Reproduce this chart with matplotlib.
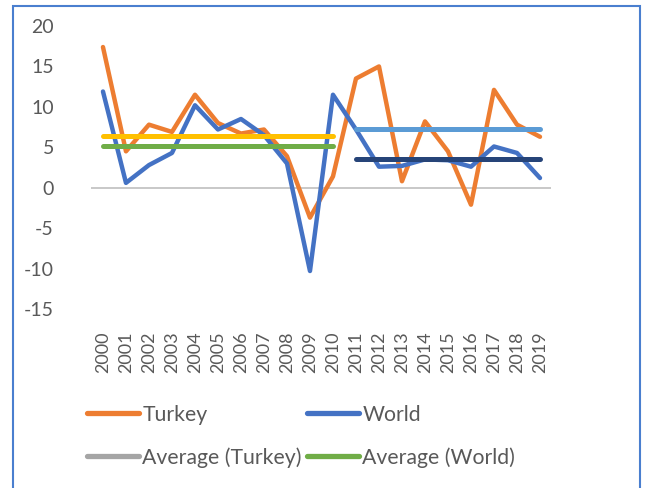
import matplotlib
matplotlib.use("Agg")
import matplotlib.pyplot as plt
from matplotlib.lines import Line2D
from matplotlib.patches import Rectangle

years = [str(y) for y in range(2000, 2020)]
turkey = [17.4, 4.5, 7.8, 6.9, 11.5, 8.0, 6.7, 7.2, 3.9, -3.7,
          1.4, 13.5, 15.0, 0.8, 8.2, 4.5, -2.1, 12.1, 7.8, 6.3]
world = [11.9, 0.6, 2.8, 4.3, 10.2, 7.2, 8.5, 6.5, 3.0, -10.3,
         11.5, 7.2, 2.6, 2.7, 3.5, 3.4, 2.6, 5.1, 4.3, 1.2]
turkey_avg = [6.4, 7.3]     # 2000-2010, 2011-2019
world_avg = [5.1, 3.6]      # 2000-2010, 2011-2019
y_ticks = [-15, -10, -5, 0, 5, 10, 15, 20]

plt.rcParams['font.family'] = ['Lato', 'DejaVu Sans']
text_col = '#595959'

fig = plt.figure(figsize=(6.46, 4.88), dpi=100)
ax = fig.add_axes([0.1416, 0.3668, 0.7121, 0.5799])

x = list(range(len(years)))
ax.plot(x, turkey, color='#ED7D31', lw=3.2, solid_capstyle='round', solid_joinstyle='round')
ax.plot(x, world, color='#4472C4', lw=3.2, solid_capstyle='round', solid_joinstyle='round')

early = x[:11]
late = x[11:]
ax.plot(early, [turkey_avg[0]] * len(early), color='#FFC000', lw=3.6, solid_capstyle='round')
ax.plot(early, [world_avg[0]] * len(early), color='#70AD47', lw=3.6, solid_capstyle='round')
ax.plot(late, [turkey_avg[1]] * len(late), color='#5B9BD5', lw=3.6, solid_capstyle='round')
ax.plot(late, [world_avg[1]] * len(late), color='#264478', lw=3.6, solid_capstyle='round')

ax.axhline(0, color='#BFBFBF', lw=1.2, zorder=0)
ax.set_xlim(-0.5, len(years) - 0.5)
ax.set_ylim(-15, 20)
ax.set_yticks(y_ticks)
ax.set_yticklabels([str(v) for v in y_ticks], fontsize=14, color=text_col)
ax.set_xticks(x)
ax.set_xticklabels(years, rotation=90, fontsize=13, color=text_col)
ax.tick_params(axis='both', length=0)
ax.tick_params(axis='y', pad=27)
ax.tick_params(axis='x', pad=16)
for s in ax.spines.values():
    s.set_visible(False)

# legend entries in column order: left column Turkey / Average (Turkey), right column World / Average (World)
handles = [
    Line2D([], [], color='#ED7D31', lw=3.8, solid_capstyle='round'),
    Line2D([], [], color='#A5A5A5', lw=3.8, solid_capstyle='round'),
    Line2D([], [], color='#4472C4', lw=3.8, solid_capstyle='round'),
    Line2D([], [], color='#70AD47', lw=3.8, solid_capstyle='round'),
]
labels = ['Turkey', 'Average (Turkey)', 'World', 'Average (World)']
leg = fig.legend(handles, labels, ncol=2, loc='upper left',
                 bbox_to_anchor=(0.105, 0.21), frameon=False,
                 fontsize=15.3, handlelength=2.45, handletextpad=0.15,
                 columnspacing=0.25, labelspacing=1.05, labelcolor=text_col)

fig.patches.append(Rectangle((13 / 646, -0.05), 627 / 646, 1 - 6 / 488 + 0.05,
                             transform=fig.transFigure, fill=False,
                             edgecolor='#4A7FCF', lw=1.5))

fig.savefig('out.png', dpi=100)
